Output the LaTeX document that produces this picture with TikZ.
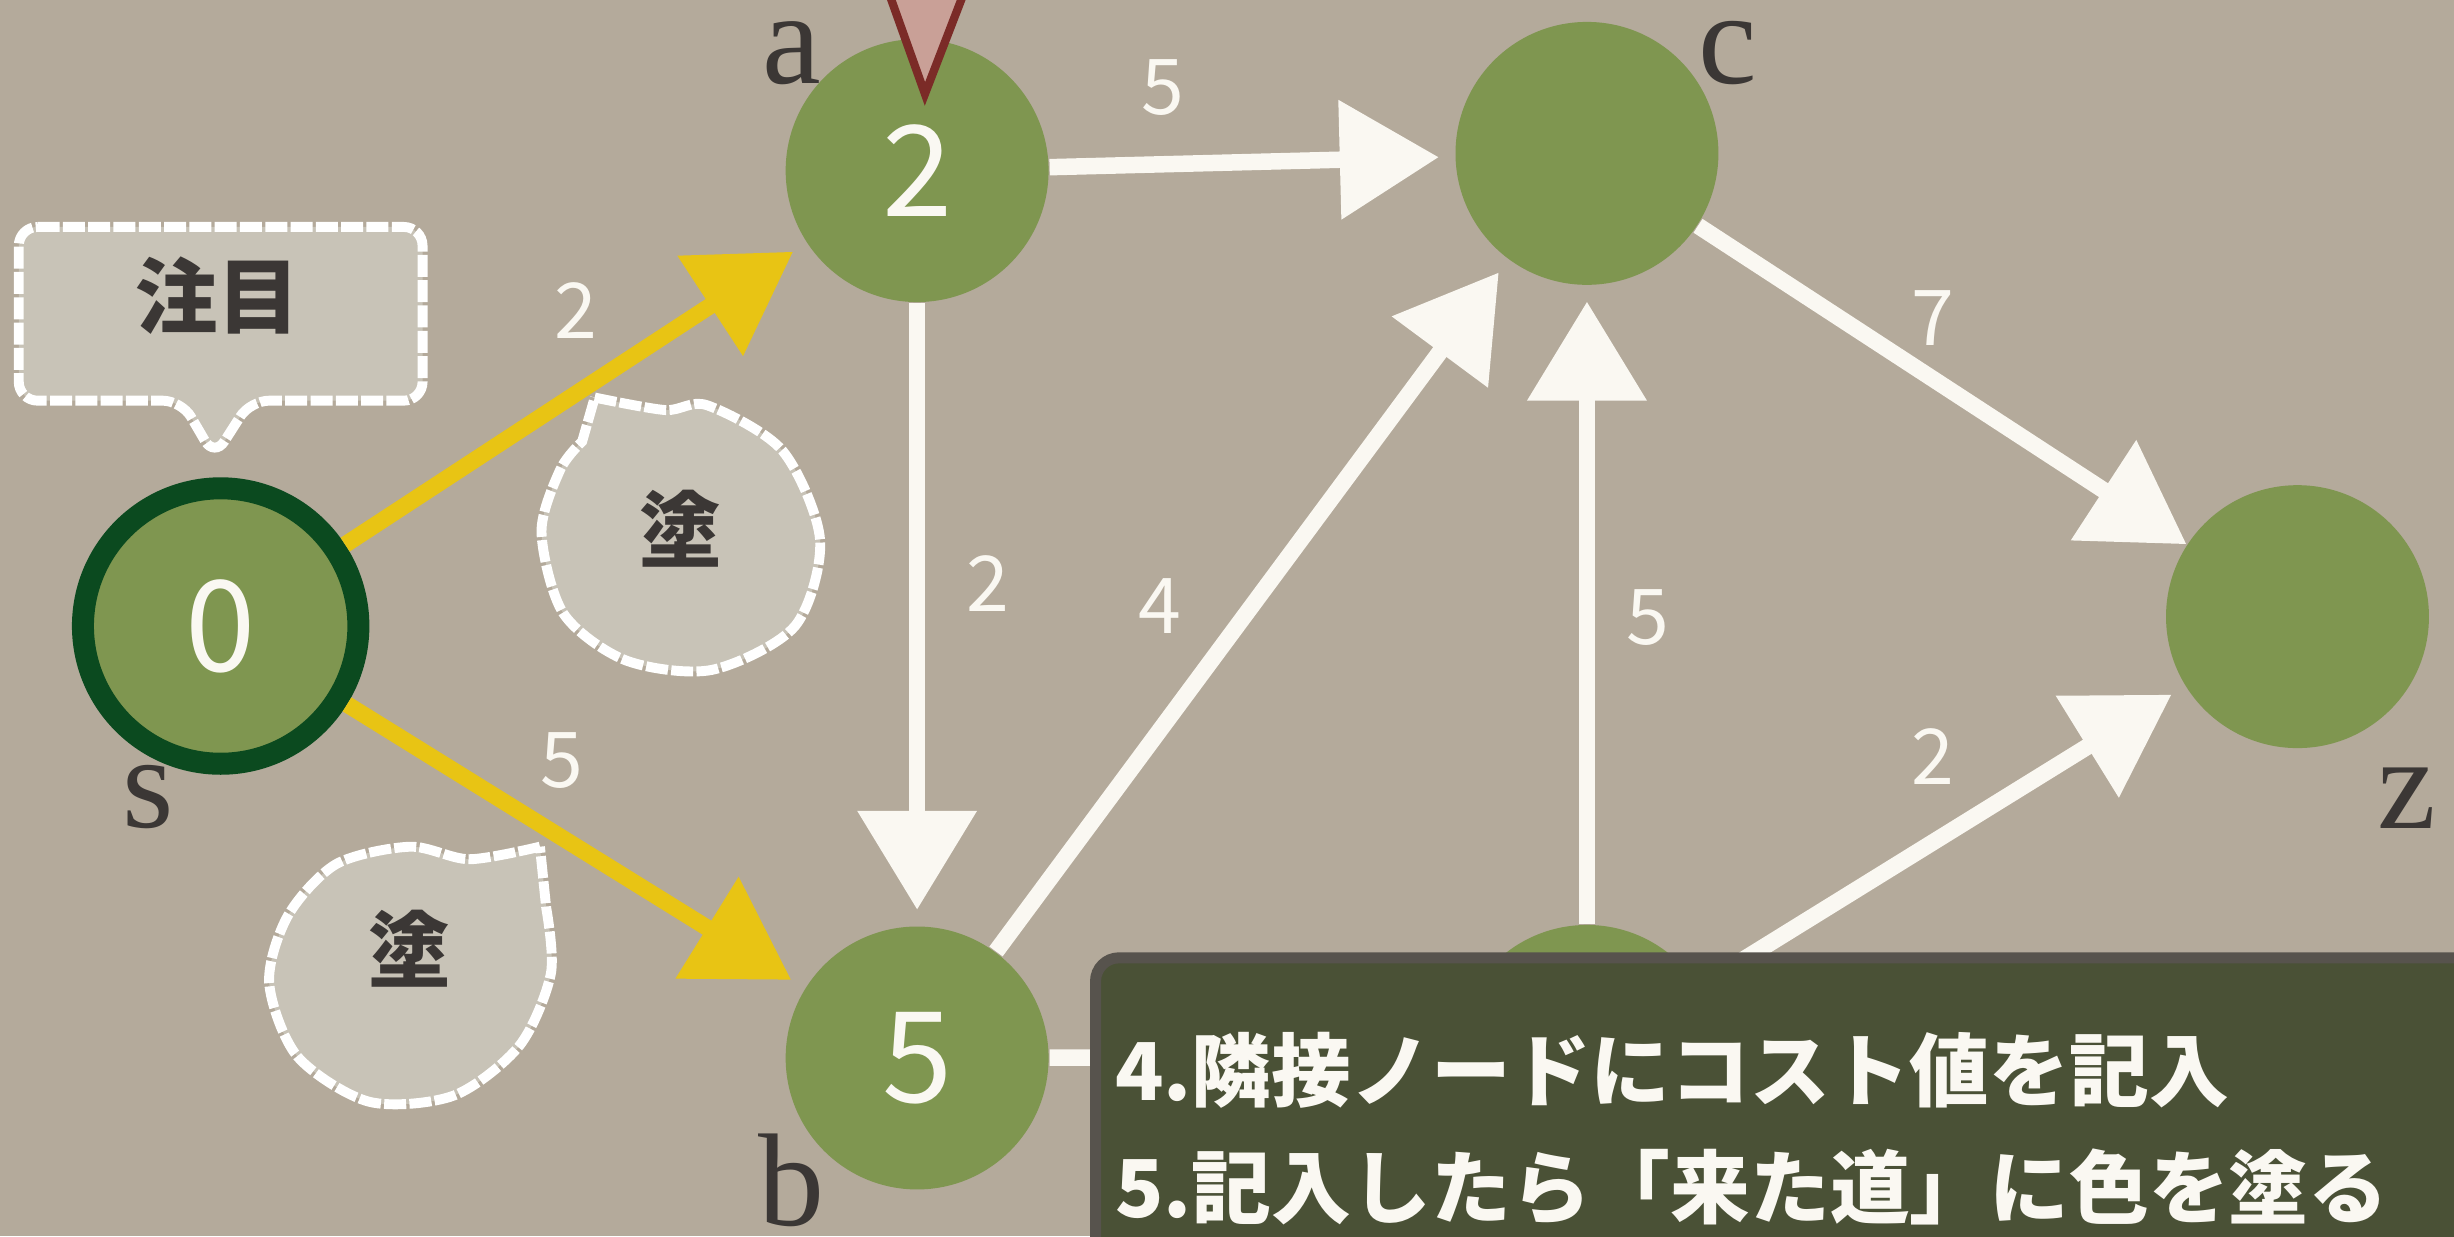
\documentclass[tikz,border=0pt]{standalone}
\usepackage{fontspec}
\setmainfont{Liberation Serif}
\newfontfamily\jpfont{Noto Sans CJK JP}
\usetikzlibrary{arrows.meta}
\definecolor{paper}{HTML}{B4AA9B}
\definecolor{leaf}{HTML}{7F9650}
\definecolor{pine}{HTML}{0B4A1F}
\definecolor{chalk}{HTML}{FAF8F2}
\definecolor{gold}{HTML}{E8C414}
\definecolor{ink}{HTML}{3B3735}
\definecolor{bubble}{HTML}{C8C3B7}
\definecolor{board}{HTML}{4A5136}
\definecolor{boardedge}{HTML}{57534D}
\definecolor{rose}{HTML}{C9A097}
\definecolor{maroon}{HTML}{7B2B27}
\begin{document}
\begin{tikzpicture}[x=0.1mm,y=-0.1mm,
  main node/.style={circle,fill=leaf,minimum size=16.8mm,inner sep=0pt,text=chalk,font=\jpfont\fontsize{23}{23}\selectfont},
  name node/.style={text=ink,inner sep=0pt,font=\fontsize{24}{24}\selectfont},
  chalk edge/.style={draw=chalk,line width=3pt,-{Triangle[length=18pt,width=21pt]},shorten >=1mm},
  gold edge/.style={chalk edge,draw=gold},
  cost/.style={text=chalk,inner sep=0pt,font=\jpfont\fontsize{14}{14}\selectfont},
  say/.style={fill=bubble,draw=white,line width=1.8pt,dash pattern=on 4pt off 0.6pt},
  say text/.style={text=ink,font=\jpfont\bfseries\fontsize{15}{15}\selectfont},
  note/.style={text=chalk,anchor=base west,inner sep=0pt,font=\jpfont\bfseries\fontsize{14.5}{14.5}\selectfont}]
  \useasboundingbox (0,0) rectangle (1568,790);
  \fill[paper] (0,0) rectangle (1568,790);
  % graph
  \node[main node] (a) at (586,109) {2};
  \node[main node] (c) at (1014,98) {};
  \node[main node] (z) at (1468,394) {};
  \node[main node] (b) at (586,676) {5};
  \node[main node] (d) at (1014,675) {};
  \node[main node,draw=pine,line width=4pt,minimum size=17.6mm] (s) at (141,400) {0};
  \node[name node] (a-name) at (506,34) {a};
  \node[name node] (c-name) at (1104,34) {c};
  \node[name node] (s-name) at (95,509) {s};
  \node[name node] (z-name) at (1538,510) {z};
  \node[name node] (b-name) at (506,754) {b};
  \path (s) edge[gold edge] node[cost,above=3mm] {2} (a)
        (s) edge[gold edge] node[cost,pos=.47,above=2.6mm] {5} (b)
        (a) edge[chalk edge] node[cost,pos=.28,above=2.6mm] {5} (c)
        (a) edge[chalk edge] node[cost,pos=.45,right=2.6mm] {2} (b)
        (b) edge[chalk edge] node[cost,left=4mm] {4} (c)
        (d) edge[chalk edge] node[cost,pos=.48,right=2mm] {5} (c)
        (c) edge[chalk edge,shorten >=0mm] node[cost,pos=.48,above=1.6mm] {7} (z)
        (d) edge[chalk edge] node[cost,pos=.48,above=3.2mm] {2} (z)
        (b) edge[chalk edge] (d);
  \draw[fill=rose,draw=maroon,line width=1.5pt] (566,-10) -- (618,-10) -- (591,60) -- cycle;
  % speech bubbles
  \draw[say,rounded corners=1.2mm] (12,145) -- (270,145) -- (270,256) -- (160,256)
    -- (137,292) -- (116,256) -- (12,256) -- cycle;
  \node[say text] (focus) at (139,189) {注目};
  \draw[say] plot[smooth] coordinates {(380,254) (425,262) (452,259) (500,288) (524,345)
    (508,400) (455,428) (400,422) (360,392) (346,340) (358,300) (372,282)} -- cycle;
  \node[say text] (paint1) at (435,338) {塗};
  \draw[say] plot[smooth] coordinates {(345,541) (300,549) (262,541) (215,552) (184,585)
    (172,628) (190,675) (236,704) (290,700) (332,668) (352,622) (349,580)} -- cycle;
  \node[say text] (paint2) at (262,606) {塗};
  % note board
  \draw[fill=board,draw=boardedge,line width=2pt,rounded corners=1.5mm] (700,612) rectangle (1620,840);
  \node[note] (note4) at (712,703) {4.隣接ノードにコスト値を記入};
  \node[note] (note5) at (712,778) {5.記入したら「来た道」に色を塗る};
\end{tikzpicture}
\end{document}
